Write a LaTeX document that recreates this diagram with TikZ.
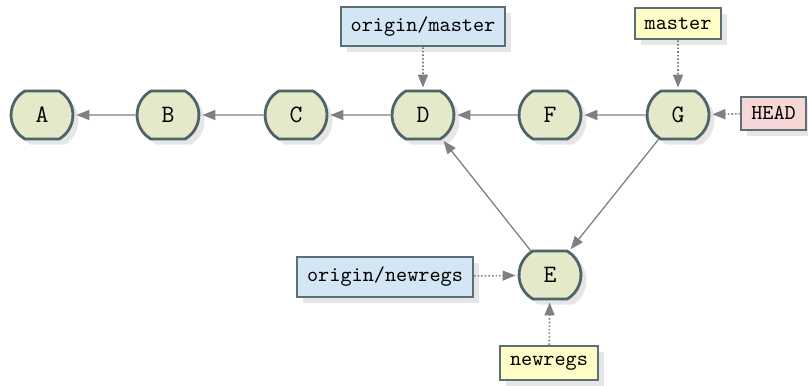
\documentclass[tikz,border=0pt]{standalone}
\usetikzlibrary{arrows.meta, shapes.misc, shadows}
\definecolor{cmtfill}{HTML}{E5E8C9}
\definecolor{cmtline}{HTML}{4E6468}
\definecolor{rmtblue}{HTML}{D3E6F4}
\definecolor{brnyel}{HTML}{FFFCC6}
\definecolor{headred}{HTML}{F7D6D6}
\definecolor{boxline}{HTML}{5B7076}
\definecolor{shd}{HTML}{E6E6E6}

\begin{document}
\begin{tikzpicture}[
  >={Triangle[length=6.5pt, width=5pt]},
  font=\fontsize{10.6}{13}\selectfont\ttfamily,
  commit/.style={rounded rectangle, rounded rectangle arc length=120,
    draw=cmtline, line width=1.4pt, fill=cmtfill,
    minimum width=35pt, minimum height=24pt, inner sep=2pt,
    font=\fontsize{12.5}{14}\selectfont\ttfamily,
    drop shadow={shadow xshift=2.8pt, shadow yshift=-2.8pt, fill=shd, opacity=1}},
  ref/.style={draw=boxline, line width=1pt, fill=#1, inner sep=5pt,
    drop shadow={shadow xshift=3pt, shadow yshift=-3pt, fill=shd, opacity=1}},
  parent/.style={->, line width=0.65pt, gray, shorten >=1pt},
  points/.style={->, line width=0.8pt, gray, densely dotted, shorten >=1pt},
]

% Canvas
\useasboundingbox (0,0) rectangle (14.199,-6.766);

% === Commits ===
\node[commit] (A) at (0.738,-2.021) {A};
\node[commit] (B) at (2.952,-2.021) {B};
\node[commit] (C) at (5.202,-2.021) {C};
\node[commit] (D) at (7.433,-2.021) {D};
\node[commit] (F) at (9.665,-2.021) {F};
\node[commit] (G) at (11.915,-2.021) {G};
\node[commit] (E) at (9.665,-4.833) {E};

% Parent links
\draw[parent] (B) -- (A);
\draw[parent] (C) -- (B);
\draw[parent] (D) -- (C);
\draw[parent] (F) -- (D);
\draw[parent] (G) -- (F);
\draw[parent] (E) -- (D);
\draw[parent] (G) -- (E);

% === Branch refs ===
\node[ref=rmtblue] (omaster) at (7.433,-0.466) {origin/master};
\node[ref=brnyel] (master) at (11.915,-0.413) {master};
\node[ref=headred] (head) at (13.593,-1.990) {HEAD};
\node[ref=rmtblue] (onewregs) at (6.766,-4.868) {origin/newregs};
\node[ref=brnyel] (newregs) at (9.648,-6.379) {newregs};

% Ref pointers
\draw[points] (omaster) -- (D);
\draw[points] (master) -- (G);
\draw[points] (head) -- (G);
\draw[points] (onewregs) -- (E);
\draw[points] (newregs) -- (E);

\end{tikzpicture}
\end{document}
